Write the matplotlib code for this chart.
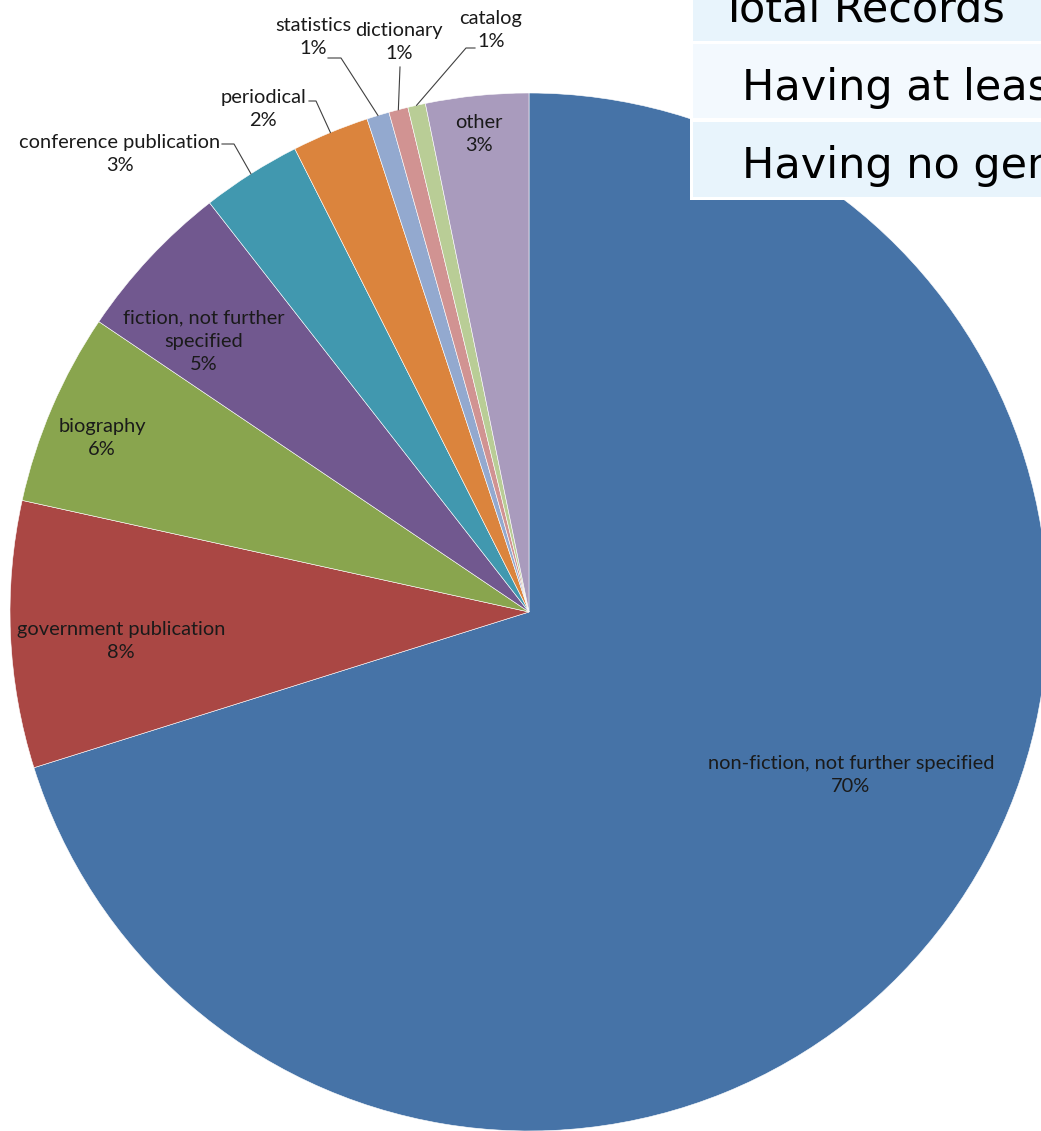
import matplotlib
matplotlib.use("Agg")
import matplotlib.pyplot as plt
from matplotlib.patches import Rectangle
import numpy as np

genres = ["non-fiction, not further specified", "government publication", "biography",
          "fiction, not further specified", "conference publication", "periodical",
          "statistics", "dictionary", "catalog", "other"]
shares = [70.15, 8.3, 6.0, 5.0, 3.1, 2.4, 0.7, 0.6, 0.55, 3.2]
colors = ["#4673A7", "#AA4744", "#89A54E", "#71588F", "#4198AF",
          "#DB843D", "#93A9CF", "#D19392", "#B9CD96", "#A99BBD"]

table_rows = ["Total Records", "Having at least one genre", "Having no genre"]

W, H = 1041, 1131
CX, CY, R = 529, 612, 519


def px(x, y):
    # pixel position -> pie data coordinates
    return (x - CX) / R, (CY - y) / R


label_text = {
    "fiction, not further specified": "fiction, not further\nspecified",
}

# label centre (pixels) and, for outside labels, the elbow of the leader line
inside = {
    "non-fiction, not further specified": (851, 775),
    "government publication": (121, 641),
    "biography": (102, 438),
    "fiction, not further specified": (204, 341),
    "other": (479, 134),
}
outside = {
    "conference publication": ((120, 154), [(222, 144), (234, 144)]),
    "periodical": ((263, 109), [(309, 101), (316, 101)]),
    "statistics": ((313, 37), [(328, 58), (341, 58)]),
    "dictionary": ((399, 42), [(400, 67)]),
    "catalog": ((491, 30), [(475, 48), (466, 48)]),
}

fig = plt.figure(figsize=(W / 100, H / 100), dpi=100)
ax = fig.add_axes([0, 0, 1, 1])
wedges, _ = ax.pie(shares, colors=colors, startangle=90, counterclock=False,
                   radius=1, wedgeprops=dict(edgecolor="white", linewidth=0.4))
ax.set_xlim(-CX / R, (W - CX) / R)
ax.set_ylim(-(H - CY) / R, CY / R)
ax.axis("off")

total = sum(shares)
font = dict(family="Lato", fontsize=14.4, color="#1a1a1a", linespacing=1.45)

for name, value, w in zip(genres, shares, wedges):
    pct = f"{value / total * 100:.0f}%"
    text = label_text.get(name, name) + "\n" + pct
    if name in inside:
        x, y = px(*inside[name])
        ax.text(x, y, text, ha="center", va="center", **font)
    else:
        (tx, ty), elbow = outside[name]
        x, y = px(tx, ty)
        ax.text(x, y, text, ha="center", va="center", **font)
        mid = np.deg2rad((w.theta1 + w.theta2) / 2)
        pts = [px(*p) for p in elbow] + [(np.cos(mid), np.sin(mid))]
        xs, ys = zip(*pts)
        ax.plot(xs, ys, color="#404040", linewidth=0.8)

# summary table overlapping the top right corner
tax = fig.add_axes([0, 0, 1, 1], zorder=5)
tax.set_xlim(0, W)
tax.set_ylim(H, 0)
tax.axis("off")
tax.add_patch(Rectangle((690, -5), 360, 205, facecolor="white", edgecolor="none"))
row_spans = [(-5, 41), (44, 118), (122, 197)]
row_colors = ["#E8F4FC", "#F3F9FE", "#E8F4FC"]
row_text_x = [720, 742, 742]
row_baseline = [22, 100, 178]
for (top, bottom), c, label, x, yb in zip(row_spans, row_colors, table_rows,
                                          row_text_x, row_baseline):
    tax.add_patch(Rectangle((693, top), 360, bottom - top, facecolor=c, edgecolor="none"))
    tax.text(x, yb, label, ha="left", va="baseline", family="DejaVu Sans",
             fontsize=31, color="black", clip_on=True)

fig.savefig("out.png", dpi=100)
